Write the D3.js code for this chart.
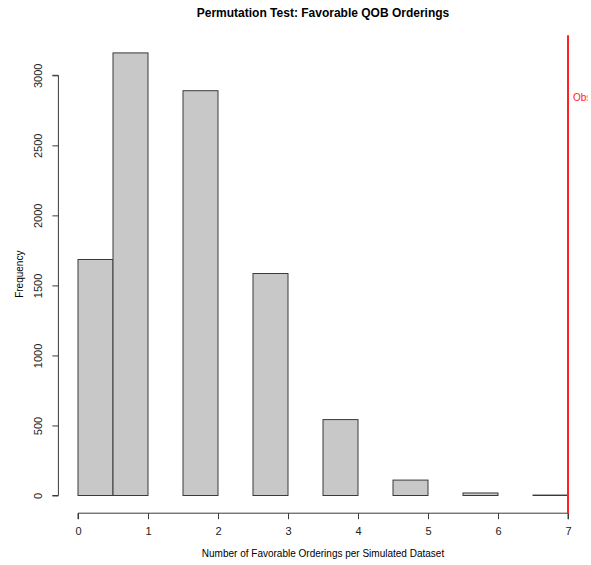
<!DOCTYPE html>
<html>
<head>
<meta charset="utf-8">
<script src="https://cdn.jsdelivr.net/npm/d3@7"></script>
<style>
  body { margin: 0; background: #fff; }
  svg { display: block; font-family: "Liberation Sans", Arial, sans-serif; }
</style>
</head>
<body>
<svg id="chart" width="591" height="565"></svg>
<script>
// histogram bins (width 0.5) and counts
const breaks = [0, 0.5, 1, 1.5, 2, 2.5, 3, 3.5, 4, 4.5, 5, 5.5, 6, 6.5, 7];
const counts = [1685, 3160, 0, 2890, 0, 1585, 0, 542, 0, 110, 0, 18, 0, 3];
const xTicks = [0, 1, 2, 3, 4, 5, 6, 7];
const yTicks = [0, 500, 1000, 1500, 2000, 2500, 3000];
const observed = 7;

const width = 591, height = 565;
const plot = {left: 58.4, right: 587.6, top: 35.2, bottom: 513.2};

const bins = counts.map((c, i) => ({x0: breaks[i], x1: breaks[i + 1], n: c}));

// R style 4% padding on both axes
const xr = [0, 7], yr = [0, d3.max(counts)];
const x = d3.scaleLinear()
  .domain([xr[0] - 0.04 * (xr[1] - xr[0]), xr[1] + 0.04 * (xr[1] - xr[0])])
  .range([plot.left, plot.right]);
const y = d3.scaleLinear()
  .domain([yr[0] - 0.04 * (yr[1] - yr[0]), yr[1] + 0.04 * (yr[1] - yr[0])])
  .range([plot.bottom, plot.top]);

const svg = d3.select('#chart');

svg.append('defs').append('clipPath').attr('id', 'clip')
  .append('rect')
  .attr('x', plot.left).attr('y', plot.top)
  .attr('width', plot.right - plot.left).attr('height', plot.bottom - plot.top);

// bars
svg.append('g')
  .selectAll('rect')
  .data(bins)
  .enter().append('rect')
  .attr('x', d => x(d.x0))
  .attr('y', d => y(d.n))
  .attr('width', d => x(d.x1) - x(d.x0))
  .attr('height', d => y(0) - y(d.n))
  .attr('fill', '#c8c8c8')
  .attr('stroke', '#3a3a3a')
  .attr('stroke-width', 1);

// axes
const xAxis = d3.axisBottom(x).tickValues(xTicks).tickSize(6).tickPadding(8).tickFormat(d3.format('d'));
const gx = svg.append('g')
  .attr('transform', `translate(0,${plot.bottom})`)
  .call(xAxis);
gx.select('.domain').attr('d', `M${x(0)},6V0H${x(7)}V6`);

const yAxis = d3.axisLeft(y).tickValues(yTicks).tickSize(6).tickFormat(d3.format('d'));
const gy = svg.append('g')
  .attr('transform', `translate(${plot.left},0)`)
  .call(yAxis);
gy.select('.domain').attr('d', `M-6,${y(0)}H0V${y(3000)}H-6`);
gy.selectAll('.tick text')
  .attr('transform', 'rotate(-90)')
  .attr('x', 0).attr('y', -16)
  .attr('dy', 0)
  .attr('text-anchor', 'middle');

svg.selectAll('.domain, .tick line').attr('stroke', '#3a3a3a');
svg.selectAll('.tick text').attr('font-size', 11).attr('fill', '#222')
  .attr('font-family', '"Liberation Sans", Arial, sans-serif');

// observed value line
svg.append('line')
  .attr('x1', x(observed)).attr('x2', x(observed))
  .attr('y1', plot.top).attr('y2', plot.bottom)
  .attr('stroke', '#ff2020')
  .attr('stroke-width', 2);

svg.append('text')
  .attr('clip-path', 'url(#clip)')
  .attr('x', x(observed) + 5)
  .attr('y', 101)
  .attr('fill', '#ff2020')
  .attr('font-size', 10)
  .text('Observed');

// titles
svg.append('text')
  .attr('x', (plot.left + plot.right) / 2)
  .attr('y', 17)
  .attr('text-anchor', 'middle')
  .attr('font-weight', 'bold')
  .attr('font-size', 12)
  .text('Permutation Test: Favorable QOB Orderings');

svg.append('text')
  .attr('x', (plot.left + plot.right) / 2)
  .attr('y', 557)
  .attr('text-anchor', 'middle')
  .attr('font-size', 10)
  .text('Number of Favorable Orderings per Simulated Dataset');

svg.append('text')
  .attr('transform', `translate(23,${(plot.top + plot.bottom) / 2}) rotate(-90)`)
  .attr('text-anchor', 'middle')
  .attr('font-size', 10)
  .text('Frequency');
</script>
</body>
</html>
